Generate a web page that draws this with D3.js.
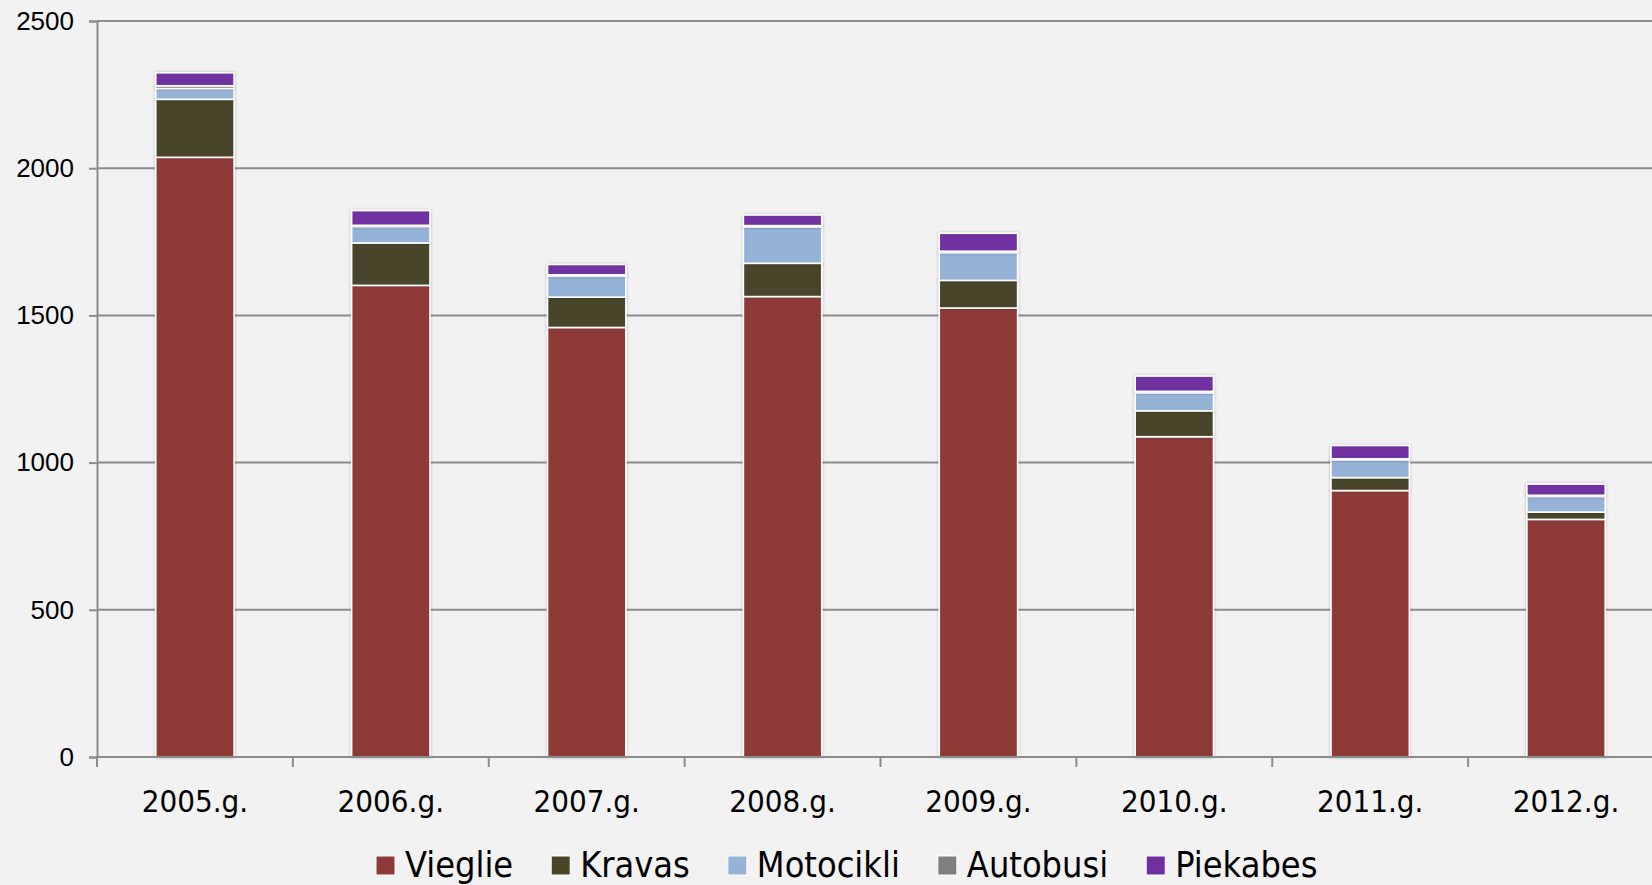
<!DOCTYPE html>
<html>
<head>
<meta charset="utf-8">
<script src="https://cdn.jsdelivr.net/npm/d3@7"></script>
<style>
  html, body { margin: 0; padding: 0; background: #f2f2f2; }
  svg { display: block; }
</style>
</head>
<body>
<svg id="chart"></svg>
<script>
const categories = ["2005.g.", "2006.g.", "2007.g.", "2008.g.", "2009.g.", "2010.g.", "2011.g.", "2012.g."];
const seriesNames = ["Vieglie", "Kravas", "Motocikli", "Autobusi", "Piekabes"];
const vieglie = [2037, 1602, 1459, 1564, 1525, 1088, 905, 807];
const kravas = [197, 144, 103, 113, 94, 88, 44, 25];
const motocikli = [37, 56, 71, 123, 94, 61, 60, 53];
const autobusi = [9, 4, 5, 5, 5, 5, 4, 4];
const piekabes = [44, 50, 35, 36, 61, 52, 45, 38];
const yTicks = [0, 500, 1000, 1500, 2000, 2500];
const colors = ["#8e3a38", "#4a4429", "#95b3d7", "#7f7f7f", "#7030a0"];

const width = 1652;
const height = 885;
const margin = {top: 21, right: -12, bottom: 128, left: 97};

const rows = categories.map((c, i) => ({
    cat: c,
    Vieglie: vieglie[i],
    Kravas: kravas[i],
    Motocikli: motocikli[i],
    Autobusi: autobusi[i],
    Piekabes: piekabes[i]
}));

const svg = d3.select("#chart")
    .attr("width", width)
    .attr("height", height)
    .attr("viewBox", [0, 0, width, height]);

svg.append("rect").attr("width", width).attr("height", height).attr("fill", "#f2f2f2");

const defs = svg.append("defs");
defs.append("filter")
    .attr("id", "shadow")
    .attr("x", "-20%").attr("y", "-20%").attr("width", "140%").attr("height", "140%")
    .append("feDropShadow")
    .attr("dx", 0).attr("dy", 0)
    .attr("stdDeviation", 1.6)
    .attr("flood-color", "#000")
    .attr("flood-opacity", 0.25);

const x = d3.scaleBand()
    .domain(categories)
    .range([margin.left, width - margin.right])
    .paddingInner(0.6)
    .paddingOuter(0.3);

const y = d3.scaleLinear()
    .domain([0, 2500])
    .range([height - margin.bottom, margin.top]);

// gridlines
svg.append("g")
    .selectAll("line")
    .data(yTicks.filter(d => d > 0))
    .join("line")
    .attr("x1", margin.left)
    .attr("x2", width)
    .attr("y1", d => y(d))
    .attr("y2", d => y(d))
    .attr("stroke", "#8c8c8c")
    .attr("stroke-width", 2);

// y axis
const yAxis = svg.append("g")
    .attr("transform", `translate(${margin.left},0)`)
    .call(d3.axisLeft(y).tickValues(yTicks).tickSize(8).tickPadding(15).tickFormat(d3.format("d")));
yAxis.select(".domain").attr("stroke", "#8c8c8c").attr("stroke-width", 2);
yAxis.selectAll(".tick line").attr("stroke", "#8c8c8c").attr("stroke-width", 2);
yAxis.selectAll(".tick text")
    .attr("fill", "#000")
    .style("font", "26px 'Liberation Sans', Arial, sans-serif");

// bars
const stack = d3.stack().keys(seriesNames)(rows);

svg.append("g")
    .selectAll("g")
    .data(stack)
    .join("g")
    .attr("fill", (d, i) => colors[i])
    .attr("filter", "url(#shadow)")
    .selectAll("rect")
    .data(d => d)
    .join("rect")
    .attr("x", d => x(d.data.cat))
    .attr("width", x.bandwidth())
    .attr("y", d => y(d[1]))
    .attr("height", d => y(d[0]) - y(d[1]))
    .attr("stroke", "#fff")
    .attr("stroke-width", 1.6);

// x axis
const step = x.step();
const xTickPos = d3.range(categories.length + 1).map(i => margin.left + i * step);
const xAxis = svg.append("g");
xAxis.append("line")
    .attr("x1", margin.left)
    .attr("x2", width)
    .attr("y1", y(0))
    .attr("y2", y(0))
    .attr("stroke", "#8c8c8c")
    .attr("stroke-width", 2);
xAxis.selectAll(".xtick")
    .data(xTickPos)
    .join("line")
    .attr("class", "xtick")
    .attr("x1", d => d)
    .attr("x2", d => d)
    .attr("y1", y(0))
    .attr("y2", y(0) + 10)
    .attr("stroke", "#8c8c8c")
    .attr("stroke-width", 2);
xAxis.selectAll("text")
    .data(categories)
    .join("text")
    .attr("x", d => x(d) + x.bandwidth() / 2)
    .attr("y", 812)
    .attr("text-anchor", "middle")
    .attr("fill", "#000")
    .style("font", "31px 'DejaVu Sans Condensed', 'DejaVu Sans', sans-serif")
    .text(d => d);

// legend
const legend = svg.append("g");
let lx = 376;
seriesNames.forEach((name, i) => {
    const item = legend.append("g").attr("transform", `translate(${lx},0)`);
    item.append("rect")
        .attr("x", 0)
        .attr("y", 856)
        .attr("width", 19)
        .attr("height", 19)
        .attr("fill", colors[i])
        .attr("stroke", "#fff")
        .attr("stroke-width", 1);
    const t = item.append("text")
        .attr("x", 29)
        .attr("y", 877)
        .attr("fill", "#000")
        .style("font", "35.8px 'DejaVu Sans Condensed', 'DejaVu Sans', sans-serif")
        .text(name);
    lx += 29 + t.node().getComputedTextLength() + 38;
});
</script>
</body>
</html>
